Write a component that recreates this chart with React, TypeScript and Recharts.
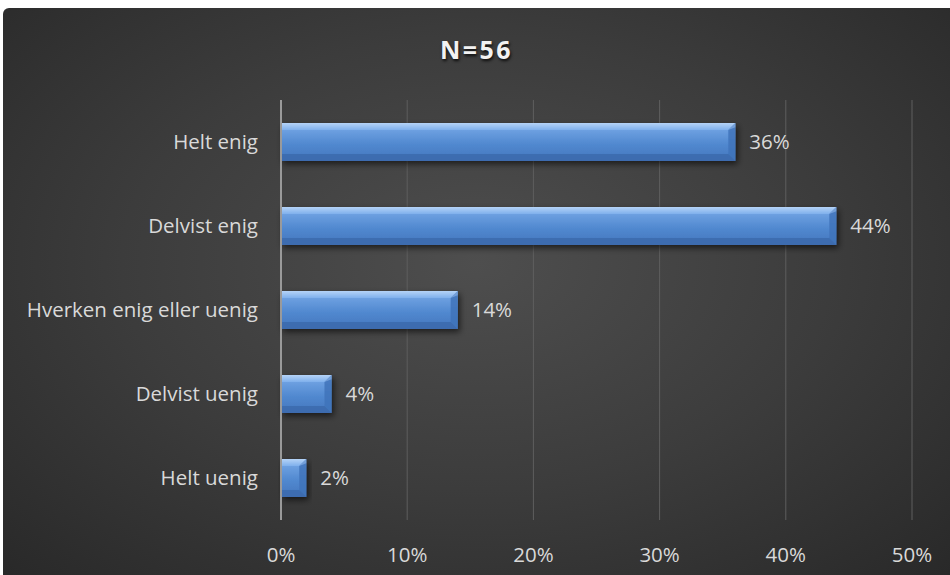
import React from "react";
import { BarChart, Bar, XAxis, YAxis, CartesianGrid, LabelList } from "recharts";

const categories = ["Helt enig", "Delvist enig", "Hverken enig eller uenig", "Delvist uenig", "Helt uenig"];
const shares = [36, 44, 14, 4, 2];
const xTicks = [0, 10, 20, 30, 40, 50];
const title = "N=56";

const data = categories.map((c, i) => ({ name: c, value: shares[i] }));

const FONT = "'Open Sans', 'Noto Sans', sans-serif";

const BevelBar = (props: any) => {
  const { x, y, width, height } = props;
  if (!width || width <= 0) return null;
  const b = Math.min(7, width / 2, height / 2);
  return (
    <g filter="url(#barShadow)">
      <rect x={x} y={y} width={width} height={height} fill="url(#barGrad)" />
      <polygon
        points={`${x},${y} ${x + width},${y} ${x + width - b},${y + b} ${x},${y + b}`}
        fill="url(#topBevel)"
      />
      <polygon
        points={`${x + width},${y} ${x + width},${y + height} ${x + width - b},${y + height - b} ${x + width - b},${y + b}`}
        fill="#3f73ba"
        opacity={0.85}
      />
      <polygon
        points={`${x},${y + height} ${x + width},${y + height} ${x + width - b},${y + height - b} ${x},${y + height - b}`}
        fill="#3a69ab"
        opacity={0.8}
      />
      <polygon
        points={`${x + width},${y} ${x + width - b},${y + b} ${x + width},${y + b * 0.6}`}
        fill="#8fb6e8"
        opacity={0.6}
      />
    </g>
  );
};

export default function App() {
  return (
    <div
      style={{
        position: "absolute",
        left: 3,
        top: 8,
        width: 947,
        height: 567,
        borderRadius: "6px 0 0 0",
        overflow: "hidden",
        background: "radial-gradient(ellipse 75% 80% at 50% 45%, #4e4e4e 0%, #3c3c3c 50%, #272727 100%)",
      }}
    >
      <div
        style={{
          position: "absolute",
          top: 24,
          left: 0,
          width: 947,
          textAlign: "center",
          fontFamily: FONT,
          fontWeight: 700,
          fontSize: 25,
          letterSpacing: 2.5,
          color: "#f2f2f2",
          textShadow: "1px 2px 3px rgba(0,0,0,0.8)",
        }}
      >
        {title}
      </div>
      <BarChart
        width={947}
        height={567}
        data={data}
        layout="vertical"
        margin={{ top: 92, right: 38, bottom: 25, left: 0 }}
        barSize={38}
        style={{ position: "absolute", left: 0, top: 0 }}
      >
        <defs>
          <linearGradient id="barGrad" x1="0" y1="0" x2="0" y2="1">
            <stop offset="0%" stopColor="#9cc2f0" />
            <stop offset="20%" stopColor="#6c9fe0" />
            <stop offset="55%" stopColor="#5189d0" />
            <stop offset="100%" stopColor="#4576bd" />
          </linearGradient>
          <linearGradient id="topBevel" x1="0" y1="0" x2="0" y2="1">
            <stop offset="0%" stopColor="#b5d3f7" />
            <stop offset="100%" stopColor="#7fb0ec" />
          </linearGradient>
          <filter id="barShadow" x="-10%" y="-30%" width="130%" height="180%">
            <feDropShadow dx="2" dy="3" stdDeviation="3" floodColor="#000" floodOpacity="0.6" />
          </filter>
        </defs>
        <CartesianGrid horizontal={false} stroke="#5e5e5e" strokeWidth={1} />
        <XAxis
          type="number"
          domain={[0, 50]}
          ticks={xTicks}
          tickFormatter={(v: number) => `${v}%`}
          axisLine={false}
          tickLine={false}
          tickMargin={21}
          height={30}
          tick={{ fill: "#d9d9d9", fontSize: 20.5, fontFamily: FONT }}
        />
        <YAxis
          type="category"
          dataKey="name"
          width={278}
          axisLine={{ stroke: "#9a9a9a", strokeWidth: 2 }}
          tickLine={false}
          tickMargin={17}
          tick={{ fill: "#d9d9d9", fontSize: 20.5, fontFamily: FONT }}
        />
        <Bar dataKey="value" isAnimationActive={false} shape={<BevelBar />}>
          <LabelList
            dataKey="value"
            position="right"
            offset={14}
            formatter={(v: number) => `${v}%`}
            style={{ fill: "#d9d9d9", fontSize: 20.5, fontFamily: FONT }}
          />
        </Bar>
      </BarChart>
    </div>
  );
}
